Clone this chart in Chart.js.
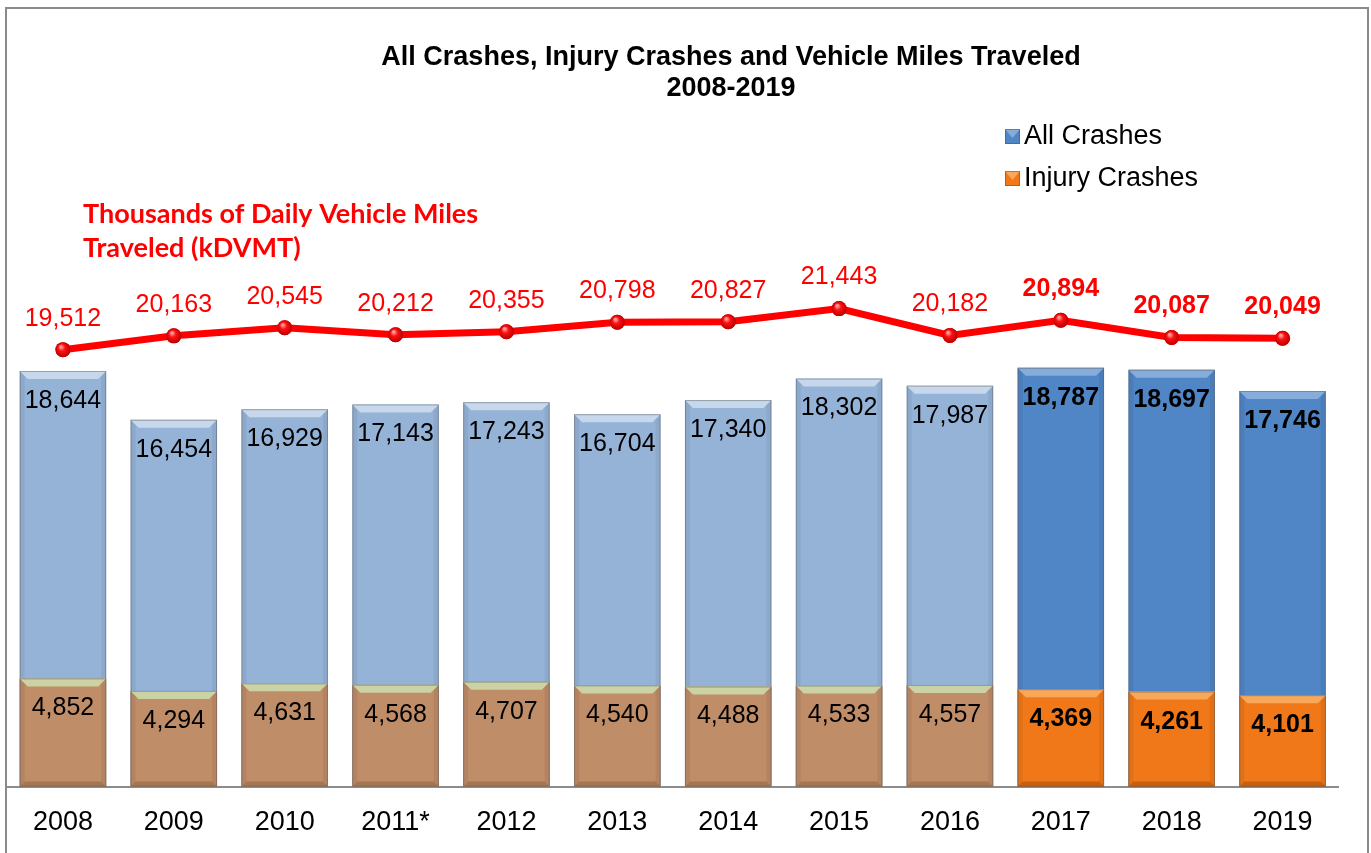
<!DOCTYPE html>
<html>
<head>
<meta charset="utf-8">
<script src="https://cdn.jsdelivr.net/npm/chart.js@4.4.0/dist/chart.umd.min.js"></script>
<style>
  html, body { margin: 0; padding: 0; background: #fff; }
  #wrap { width: 1371px; height: 853px; }
</style>
</head>
<body>
<div id="wrap"><canvas id="chart" width="1371" height="853"></canvas></div>
<script>
const years = ['2008', '2009', '2010', '2011*', '2012', '2013', '2014', '2015', '2016', '2017', '2018', '2019'];
const allCrashes = [18644, 16454, 16929, 17143, 17243, 16704, 17340, 18302, 17987, 18787, 18697, 17746];
const injuryCrashes = [4852, 4294, 4631, 4568, 4707, 4540, 4488, 4533, 4557, 4369, 4261, 4101];
const kdvmt = [19512, 20163, 20545, 20212, 20355, 20798, 20827, 21443, 20182, 20894, 20087, 20049];
const boldYears = ['2017', '2018', '2019'];

const titleLines = ['All Crashes, Injury Crashes and Vehicle Miles Traveled', '2008-2019'];
const noteLines = ['Thousands of Daily Vehicle Miles', 'Traveled (kDVMT)'];

const ARIAL = "'Liberation Sans', Arial, sans-serif";

// bar palettes: [fill, bevel top, bevel bottom]
const pal = {
  allLight: ['#95B3D7', '#C8D8EC', '#7E9CC2'],
  allStrong: ['#5085C6', '#86ACDC', '#3F6DA8'],
  injLight: ['#C08D69', '#CBD3A4', '#A6764F'],
  injStrong: ['#F07818', '#F9A85A', '#C85F0C']
};

const isBold = i => boldYears.includes(years[i]);
const fmt = v => v.toLocaleString('en-US');
const pick = (strong, light, k) => years.map((y, i) => (isBold(i) ? strong : light)[k]);

function drawBevel(ctx, el, top, bottom) {
  const p = el.getProps(['x', 'y', 'width', 'base'], true);
  const l = p.x - p.width / 2, r = p.x + p.width / 2;
  const t = p.y, b = p.base;
  const d = 8, s = 5;
  ctx.save();
  // sides
  ctx.fillStyle = 'rgba(0,0,0,0.06)';
  ctx.beginPath();
  ctx.moveTo(l, t); ctx.lineTo(l + s, t + s); ctx.lineTo(l + s, b - s); ctx.lineTo(l, b);
  ctx.closePath(); ctx.fill();
  ctx.beginPath();
  ctx.moveTo(r, t); ctx.lineTo(r - s, t + s); ctx.lineTo(r - s, b - s); ctx.lineTo(r, b);
  ctx.closePath(); ctx.fill();
  // top highlight
  ctx.fillStyle = top;
  ctx.beginPath();
  ctx.moveTo(l, t); ctx.lineTo(r, t); ctx.lineTo(r - d, t + d); ctx.lineTo(l + d, t + d);
  ctx.closePath(); ctx.fill();
  // bottom shade
  ctx.fillStyle = bottom;
  ctx.beginPath();
  ctx.moveTo(l, b); ctx.lineTo(r, b); ctx.lineTo(r - s, b - s); ctx.lineTo(l + s, b - s);
  ctx.closePath(); ctx.fill();
  ctx.strokeStyle = 'rgba(90,90,90,0.45)';
  ctx.lineWidth = 1;
  ctx.strokeRect(l + 0.5, t + 0.5, p.width - 1, b - t - 1);
  ctx.restore();
}

const decor = {
  id: 'decor',
  beforeDraw(chart) {
    const ctx = chart.ctx;
    ctx.save();
    ctx.fillStyle = '#fff';
    ctx.fillRect(0, 0, chart.width, chart.height);
    ctx.strokeStyle = '#8a8a8a';
    ctx.lineWidth = 2;
    ctx.strokeRect(6, 8, 1362, 870);

    ctx.fillStyle = '#000';
    ctx.textAlign = 'center';
    ctx.textBaseline = 'middle';
    ctx.font = `bold 27px ${ARIAL}`;
    ctx.fillText(titleLines[0], 731, 58);
    ctx.fillText(titleLines[1], 731, 89);

    // legend
    const items = [
      { label: chart.data.datasets[2].label, c: pal.allStrong, y: 137 },
      { label: chart.data.datasets[1].label, c: pal.injStrong, y: 179 }
    ];
    ctx.textAlign = 'left';
    ctx.font = `27px ${ARIAL}`;
    items.forEach(it => {
      const x = 1005, y = it.y - 8, w = 15;
      ctx.fillStyle = it.c[0];
      ctx.fillRect(x, y, w, w);
      ctx.fillStyle = it.c[1];
      ctx.beginPath();
      ctx.moveTo(x, y); ctx.lineTo(x + w, y); ctx.lineTo(x + w / 2, y + w * 0.6);
      ctx.closePath(); ctx.fill();
      ctx.strokeStyle = 'rgba(80,80,80,0.5)';
      ctx.lineWidth = 1;
      ctx.strokeRect(x + 0.5, y + 0.5, w - 1, w - 1);
      ctx.fillStyle = '#000';
      ctx.fillText(it.label, 1024, it.y);
    });

    // red note
    ctx.fillStyle = '#ff0000';
    ctx.font = 'bold 27px Lato, sans-serif';
    ctx.fillText(noteLines[0], 83, 214);
    ctx.fillText(noteLines[1], 83, 248);
    ctx.restore();
  },
  afterDatasetDraw(chart, args) {
    const ctx = chart.ctx;
    const ds = chart.data.datasets[args.index];
    const meta = args.meta;
    if (meta.type === 'bar') {
      meta.data.forEach((el, i) => drawBevel(ctx, el, ds.bevelTop[i], ds.bevelBottom[i]));
    } else {
      meta.data.forEach(el => {
        const g = ctx.createRadialGradient(el.x - 2, el.y - 3, 1, el.x, el.y, 8);
        g.addColorStop(0, '#ff9a9a');
        g.addColorStop(0.35, '#ff1010');
        g.addColorStop(1, '#b00000');
        ctx.save();
        ctx.fillStyle = g;
        ctx.beginPath();
        ctx.arc(el.x, el.y, 7.5, 0, Math.PI * 2);
        ctx.fill();
        ctx.restore();
      });
    }
  },
  afterDatasetsDraw(chart) {
    const ctx = chart.ctx;
    ctx.save();
    ctx.textAlign = 'center';
    ctx.textBaseline = 'middle';
    chart.data.datasets.forEach((ds, di) => {
      const meta = chart.getDatasetMeta(di);
      meta.data.forEach((el, i) => {
        const w = isBold(i) ? 'bold ' : '';
        ctx.font = `${w}25px ${ARIAL}`;
        if (meta.type === 'bar') {
          ctx.fillStyle = '#000';
          ctx.fillText(fmt(ds.data[i]), el.x, el.y + 30);
        } else {
          ctx.fillStyle = '#ff0000';
          ctx.fillText(fmt(ds.data[i]), el.x, el.y - 31);
        }
      });
    });
    ctx.restore();
  }
};

Chart.defaults.font.family = ARIAL;

new Chart(document.getElementById('chart'), {
  type: 'bar',
  data: {
    labels: years,
    datasets: [
      {
        type: 'line',
        label: 'kDVMT',
        data: kdvmt,
        yAxisID: 'y2',
        borderColor: '#ff0000',
        borderWidth: 7,
        pointRadius: 7.5,
        pointBackgroundColor: '#ff0000',
        pointBorderWidth: 0,
        tension: 0,
        order: 0
      },
      {
        label: 'Injury Crashes',
        data: injuryCrashes,
        yAxisID: 'y',
        grouped: false,
        backgroundColor: pick(pal.injStrong, pal.injLight, 0),
        bevelTop: pick(pal.injStrong, pal.injLight, 1),
        bevelBottom: pick(pal.injStrong, pal.injLight, 2),
        borderWidth: 0,
        categoryPercentage: 0.78,
        barPercentage: 1,
        order: 1
      },
      {
        label: 'All Crashes',
        data: allCrashes,
        yAxisID: 'y',
        grouped: false,
        backgroundColor: pick(pal.allStrong, pal.allLight, 0),
        bevelTop: pick(pal.allStrong, pal.allLight, 1),
        bevelBottom: pick(pal.allStrong, pal.allLight, 2),
        borderWidth: 0,
        categoryPercentage: 0.78,
        barPercentage: 1,
        order: 2
      }
    ]
  },
  options: {
    responsive: false,
    animation: false,
    layout: { padding: { left: 7, right: 33, top: 100, bottom: -6 } },
    plugins: {
      legend: { display: false },
      title: { display: false },
      tooltip: { enabled: false }
    },
    scales: {
      x: {
        grid: { display: false, drawTicks: false },
        border: { display: true, color: '#8c8c8c', width: 2 },
        ticks: { color: '#000', font: { size: 27 }, padding: 20, maxRotation: 0, autoSkip: false }
      },
      y: { display: false, min: 0, max: 30800 },
      y2: { display: false, min: -1028, max: 31249 }
    }
  },
  plugins: [decor]
});
</script>
</body>
</html>
